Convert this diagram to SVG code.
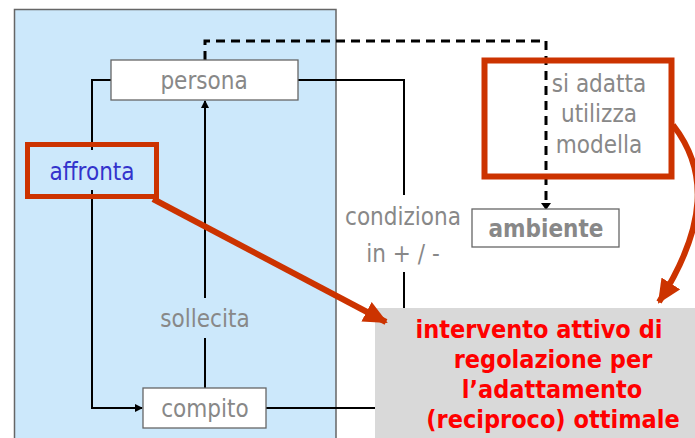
<svg xmlns="http://www.w3.org/2000/svg" width="695" height="438" viewBox="0 0 695 438">
<defs>
<style>
.box{fill:#fff;stroke:#666;stroke-width:1.3}
.lbl{font-family:"DejaVu Sans Condensed","DejaVu Sans",Verdana,sans-serif;font-stretch:condensed;font-size:24px;fill:#888;text-anchor:middle}
.bold{font-weight:bold}
.red{font-family:"DejaVu Sans Condensed","DejaVu Sans",Verdana,sans-serif;font-stretch:condensed;font-size:25px;font-weight:bold;fill:#ff0000;text-anchor:middle}
.conn{fill:none;stroke:#000;stroke-width:2}
.dash{fill:none;stroke:#000;stroke-width:3;stroke-dasharray:9 6}
.hl{fill:none;stroke:#cc3300;stroke-width:6}
</style>
<marker id="ah" markerWidth="8" markerHeight="8" refX="7" refY="4" orient="auto" markerUnits="userSpaceOnUse">
<path d="M0,0 L8,4 L0,8 z" fill="#000"/>
</marker>
<marker id="rh" markerWidth="24" markerHeight="22" refX="22" refY="11" orient="auto" markerUnits="userSpaceOnUse">
<path d="M0,0 L24,11 L0,22 z" fill="#cc3300"/>
</marker>
</defs>
<rect id="panel" x="14.5" y="9.5" width="321.5" height="440" fill="#cce8fb" stroke="#666" stroke-width="1.5"/>
<g id="connectors">
<path class="conn" d="M111,80 H92 V408 H142" marker-end="url(#ah)"/>
<path class="conn" d="M205,388 V101" marker-end="url(#ah)"/>
<path class="conn" d="M298,80 H404 V195"/>
<path class="conn" d="M404,272 V408 H266"/>
<path class="dash" d="M205,60 V41 H546 V203"/>
<path d="M541,203 L551,203 L546,210 z" fill="#000"/>
</g>
<g id="labels">
<rect x="42" y="150" width="102" height="40" fill="#cce8fb"/>
<text class="lbl" x="92" y="180" style="fill:#3333cc">affronta</text>
<rect x="155" y="298" width="100" height="40" fill="#cce8fb"/>
<text class="lbl" x="205" y="327">sollecita</text>
<text class="lbl" x="403" y="225">condiziona</text>
<text class="lbl" x="403" y="262">in + / -</text>
</g>
<g id="persona">
<rect class="box" x="111" y="60" width="187" height="40"/>
<text class="lbl" x="204" y="89">persona</text>
</g>
<g id="compito">
<rect class="box" x="143" y="388" width="123" height="40"/>
<text class="lbl" x="205" y="417">compito</text>
</g>
<g id="ambiente">
<rect class="box" x="472" y="209" width="147" height="38"/>
<text class="lbl bold" x="546" y="237">ambiente</text>
</g>
<g id="adatta">
<rect class="hl" x="484.5" y="60.5" width="187" height="116" stroke-width="5"/>
<text class="lbl" x="599" y="92">si adatta</text>
<text class="lbl" x="599" y="122">utilizza</text>
<text class="lbl" x="599" y="153">modella</text>
</g>
<g id="affronta-hl">
<rect x="27.5" y="144.5" width="129" height="52" fill="none" stroke="#cc3300" stroke-width="5"/>
</g>
<g id="intervento">
<rect x="375" y="308" width="330" height="140" fill="#d9d9d9"/>
<text class="red" x="539" y="338">intervento attivo di</text>
<text class="red" x="553" y="368">regolazione per</text>
<text class="red" x="552" y="398">l’adattamento</text>
<text class="red" x="553" y="428">(reciproco) ottimale</text>
</g>
<g id="red-arrows">
<path class="hl" d="M153,199 L386,322" marker-end="url(#rh)"/>
<path class="hl" d="M673,125 C708,170 708,225 659,302" marker-end="url(#rh)"/>
</g>
</svg>
